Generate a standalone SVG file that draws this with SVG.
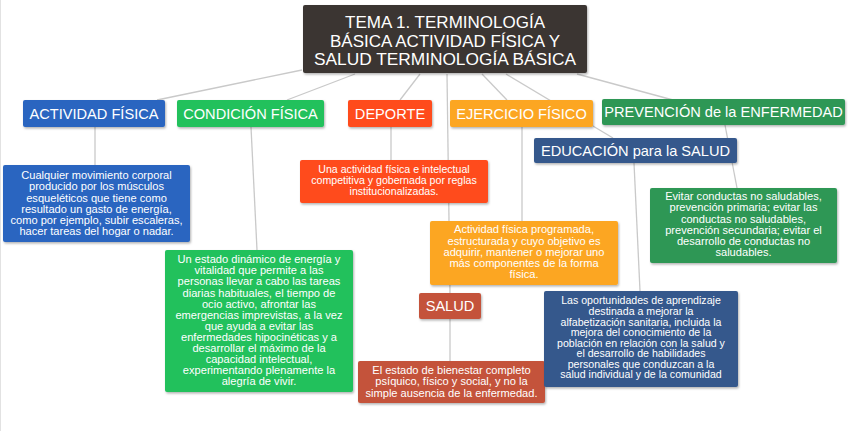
<svg xmlns="http://www.w3.org/2000/svg" width="848" height="431" viewBox="0 0 848 431">
<defs>
<filter id="sh" x="-5%" y="-5%" width="115%" height="125%">
<feDropShadow dx="1" dy="1.5" stdDeviation="1" flood-color="#000" flood-opacity="0.3"/>
</filter>
<style>
.c{stroke:#c9c9c9;stroke-width:1.3;fill:none}
.b{filter:url(#sh)}
text{font-family:"Liberation Sans",Arial,sans-serif;fill:#fff;text-anchor:middle}
.t{font-size:17px}
.h{font-size:14.6px}
.d{font-size:11.1px}
.s{font-size:10.6px}
</style>
</defs>
<rect width="848" height="431" fill="#fff"/>
<line x1="0.5" y1="0" x2="0.5" y2="431" stroke="#e2e2e2"/>
<g id="connectors">
<line class="c" x1="302" y1="70" x2="157" y2="100"/>
<line class="c" x1="355" y1="74" x2="287" y2="100"/>
<line class="c" x1="420" y1="74" x2="400" y2="100"/>
<line class="c" x1="447" y1="74" x2="450" y2="293"/>
<line class="c" x1="482" y1="74" x2="507" y2="100"/>
<line class="c" x1="506" y1="74" x2="613" y2="138"/>
<line class="c" x1="577" y1="74" x2="673" y2="100"/>
<line class="c" x1="95" y1="127" x2="95" y2="165"/>
<line class="c" x1="251" y1="127" x2="257" y2="250"/>
<line class="c" x1="391" y1="127" x2="391" y2="160"/>
<line class="c" x1="522" y1="127" x2="522" y2="221"/>
<line class="c" x1="450" y1="319" x2="450" y2="361"/>
<line class="c" x1="634" y1="163" x2="640" y2="291"/>
<line class="c" x1="725" y1="125" x2="737" y2="188"/>
</g>
<g id="title">
<rect class="b" x="303" y="5" width="284" height="68" rx="2" fill="#3b3633"/>
<text class="t" x="445" y="28.3" textLength="200" lengthAdjust="spacingAndGlyphs">TEMA 1. TERMINOLOGÍA</text>
<text class="t" x="445" y="46.8" textLength="230" lengthAdjust="spacingAndGlyphs">BÁSICA ACTIVIDAD FÍSICA Y</text>
<text class="t" x="445" y="65.3" textLength="262" lengthAdjust="spacingAndGlyphs">SALUD TERMINOLOGÍA BÁSICA</text>
</g>
<g id="actividad-fisica">
<rect class="b" x="23" y="100" width="142" height="27" rx="2" fill="#2965c0"/>
<text class="h" x="94" y="118.5">ACTIVIDAD FÍSICA</text>
</g>
<g id="condicion-fisica">
<rect class="b" x="177" y="100" width="147" height="27" rx="2" fill="#20c15c"/>
<text class="h" x="250.5" y="118.5">CONDICIÓN FÍSICA</text>
</g>
<g id="deporte">
<rect class="b" x="348" y="100" width="84" height="27" rx="2" fill="#ff4b1e"/>
<text class="h" x="390" y="118.5">DEPORTE</text>
</g>
<g id="ejercicio-fisico">
<rect class="b" x="450" y="100" width="143" height="27" rx="2" fill="#fca622"/>
<text class="h" x="521.5" y="118.5">EJERCICIO FÍSICO</text>
</g>
<g id="prevencion">
<rect class="b" x="602" y="99" width="243" height="26" rx="2" fill="#2f9755"/>
<text class="h" x="723.5" y="117.3">PREVENCIÓN de la ENFERMEDAD</text>
</g>
<g id="educacion">
<rect class="b" x="534" y="138" width="203" height="25" rx="2" fill="#34588c"/>
<text class="h" x="635.5" y="156">EDUCACIÓN para la SALUD</text>
</g>
<g id="salud">
<rect class="b" x="419" y="293" width="62" height="26" rx="2" fill="#c4533b"/>
<text class="h" x="450" y="311.3">SALUD</text>
</g>
<g id="actividad-desc">
<rect class="b" x="3" y="165" width="187" height="77" rx="2" fill="#2965c0"/>
<text class="d" x="96.5" y="179.3">Cualquier movimiento corporal</text>
<text class="d" x="96.5" y="190.4">producido por los músculos</text>
<text class="d" x="96.5" y="201.5">esqueléticos que tiene como</text>
<text class="d" x="96.5" y="212.6">resultado un gasto de energía,</text>
<text class="d" x="96.5" y="223.7">como por ejemplo, subir escaleras,</text>
<text class="d" x="96.5" y="234.8">hacer tareas del hogar o nadar.</text>
</g>
<g id="condicion-desc">
<rect class="b" x="165" y="250" width="188" height="142" rx="2" fill="#20c15c"/>
<text class="d" x="259" y="263.3">Un estado dinámico de energía y</text>
<text class="d" x="259" y="274.4">vitalidad que permite a las</text>
<text class="d" x="259" y="285.4">personas llevar a cabo las tareas</text>
<text class="d" x="259" y="296.5">diarias habituales, el tiempo de</text>
<text class="d" x="259" y="307.5">ocio activo, afrontar las</text>
<text class="d" x="259" y="318.6">emergencias imprevistas, a la vez</text>
<text class="d" x="259" y="329.7">que ayuda a evitar las</text>
<text class="d" x="259" y="340.7">enfermedades hipocinéticas y a</text>
<text class="d" x="259" y="351.8">desarrollar el máximo de la</text>
<text class="d" x="259" y="362.8">capacidad intelectual,</text>
<text class="d" x="259" y="373.9">experimentando plenamente la</text>
<text class="d" x="259" y="385">alegría de vivir.</text>
</g>
<g id="deporte-desc">
<rect class="b" x="300" y="160" width="188" height="43" rx="2" fill="#ff4b1e"/>
<text class="s" x="394" y="173.3">Una actividad física e intelectual</text>
<text class="s" x="394" y="184">competitiva y gobernada por reglas</text>
<text class="s" x="394" y="194.7">institucionalizadas.</text>
</g>
<g id="ejercicio-desc">
<rect class="b" x="430" y="221" width="188" height="64" rx="2" fill="#fca622"/>
<text class="d" x="524" y="233.3">Actividad física programada,</text>
<text class="d" x="524" y="244.5">estructurada y cuyo objetivo es</text>
<text class="d" x="524" y="255.7">adquirir, mantener o mejorar uno</text>
<text class="d" x="524" y="266.9">más componentes de la forma</text>
<text class="d" x="524" y="278.1">física.</text>
</g>
<g id="salud-desc">
<rect class="b" x="358" y="361" width="187" height="42" rx="2" fill="#c4533b"/>
<text class="d" x="451.5" y="373.5">El estado de bienestar completo</text>
<text class="d" x="451.5" y="385.2">psíquico, físico y social, y no la</text>
<text class="d" x="451.5" y="396.8">simple ausencia de la enfermedad.</text>
</g>
<g id="educacion-desc">
<rect class="b" x="544" y="291" width="194" height="96" rx="2" fill="#34588c"/>
<text class="s" x="641" y="304.3">Las oportunidades de aprendizaje</text>
<text class="s" x="641" y="314.9">destinada a mejorar la</text>
<text class="s" x="641" y="325.5">alfabetización sanitaria, incluida la</text>
<text class="s" x="641" y="336">mejora del conocimiento de la</text>
<text class="s" x="641" y="346.6">población en relación con la salud y</text>
<text class="s" x="641" y="357.2">el desarrollo de habilidades</text>
<text class="s" x="641" y="367.7">personales que conduzcan a la</text>
<text class="s" x="641" y="378.3">salud individual y de la comunidad</text>
</g>
<g id="prevencion-desc">
<rect class="b" x="650" y="188" width="187" height="75" rx="2" fill="#2f9755"/>
<text class="d" x="743.5" y="200.2">Evitar conductas no saludables,</text>
<text class="d" x="743.5" y="211.4">prevención primaria; evitar las</text>
<text class="d" x="743.5" y="222.6">conductas no saludables,</text>
<text class="d" x="743.5" y="233.8">prevención secundaria; evitar el</text>
<text class="d" x="743.5" y="245">desarrollo de conductas no</text>
<text class="d" x="743.5" y="256.2">saludables.</text>
</g>
</svg>
